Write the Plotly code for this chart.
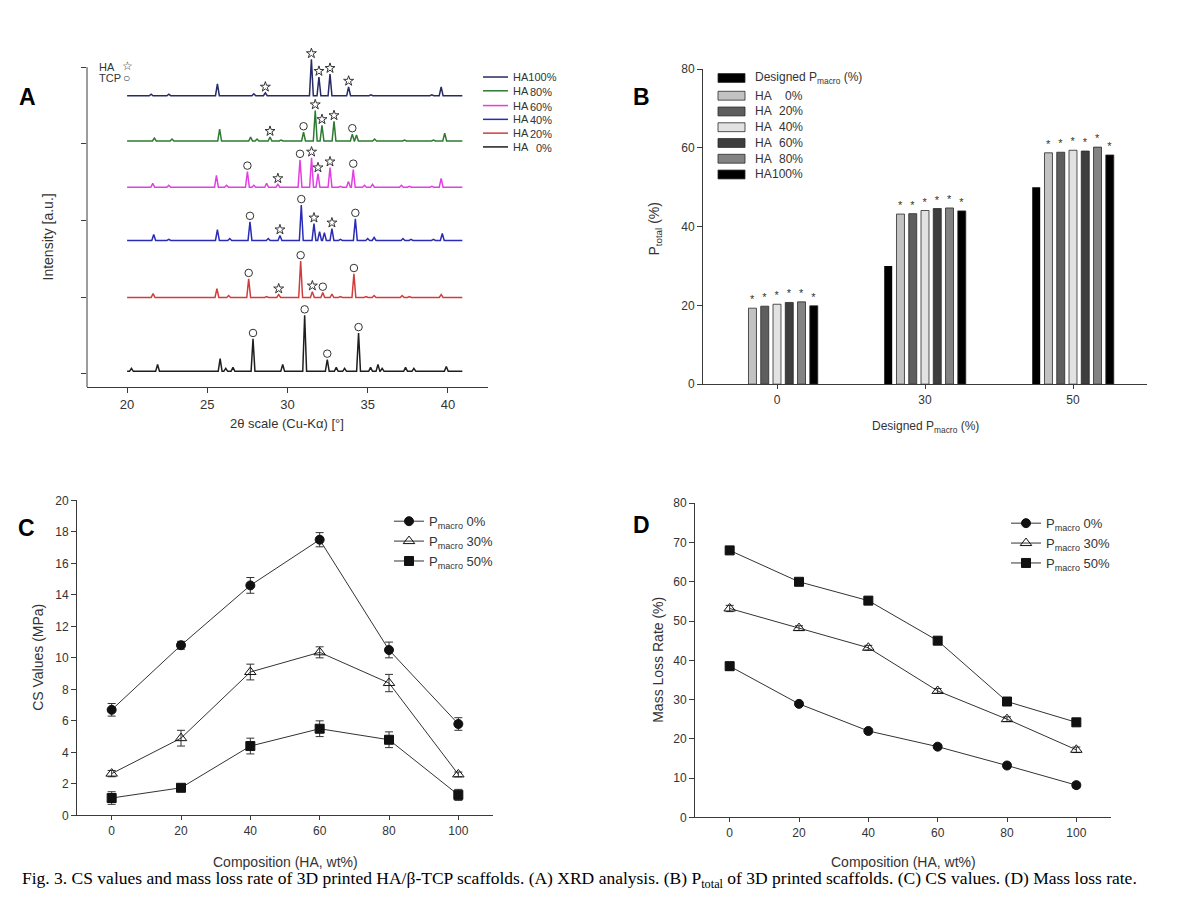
import plotly.graph_objects as go

W, H = 1183, 900


def px(x):
    return x / W


def py(y):
    return 1 - y / H


# ---------------- A: XRD patterns (peak positions in 2theta, heights in a.u.) ----------------
xrd_pct = ["0%", "20%", "40%", "60%", "80%", "100%"]
xrd_colors = ["#1e1e1e", "#d23c3c", "#2b2bb5", "#e23fe2", "#2d7a32", "#262a66"]
xrd_offsets = [2, 77, 135, 189, 236, 282]

ha0_pos = [20.27, 21.9, 25.8, 26.15, 26.6, 27.85, 29.7, 31.07, 32.48, 33.04, 33.56, 34.43, 35.18, 35.64, 35.9, 37.36, 37.88, 39.9]
ha0_int = [3, 7, 13, 3, 4, 33, 7, 57, 12, 4, 3, 39, 4, 7, 3, 4, 3, 5]
ha20_pos = [21.62, 25.6, 26.33, 27.58, 28.7, 29.45, 30.82, 31.55, 32.2, 32.77, 33.3, 34.14, 34.9, 35.4, 37.15, 37.6, 39.58]
ha20_int = [4, 9, 2, 19, 1, 3, 37, 6, 5, 3.5, 1, 24, 1, 2, 2, 1, 3]
ha40_pos = [21.66, 22.6, 25.63, 26.4, 27.66, 28.8, 29.53, 30.86, 31.65, 32.0, 32.3, 32.77, 33.3, 34.23, 35.0, 35.4, 37.2, 37.7, 39.1, 39.65]
ha40_int = [6, 1, 11, 2, 19, 2, 5, 36, 17, 9, 8, 12, 1, 22, 2, 3, 2, 1, 1, 7]
ha60_pos = [21.6, 22.6, 25.57, 26.2, 27.5, 27.9, 28.7, 29.4, 30.78, 31.5, 31.9, 32.65, 33.3, 33.8, 34.1, 34.8, 35.3, 37.1, 37.6, 39.0, 39.58]
ha60_int = [4, 2, 12, 2, 16, 2, 4, 3, 28, 30, 14, 20, 1, 6, 18, 2, 3, 2, 1, 1, 9]
ha80_pos = [21.7, 22.8, 25.77, 27.7, 28.1, 28.91, 29.6, 31.0, 31.73, 32.15, 32.9, 34.04, 34.3, 35.43, 37.3, 39.1, 39.8]
ha80_int = [3, 2, 12, 4, 2, 4, 1, 9, 31, 16, 20, 7, 6, 2, 1, 1, 8]
ha100_pos = [21.5, 22.6, 25.63, 27.9, 28.62, 31.49, 31.96, 32.65, 33.81, 35.2, 39.0, 39.58]
ha100_int = [1.5, 1.5, 12, 2, 3, 37, 19, 22, 9, 1, 1, 9]

# phase markers: HA (star) and TCP (circle)
ha0_star, ha0_circ = [], [27.85, 31.07, 32.48, 34.43]
ha20_star, ha20_circ = [29.45, 31.55], [27.58, 30.82, 32.2, 34.14]
ha40_star, ha40_circ = [29.53, 31.65, 32.77], [27.66, 30.86, 34.23]
ha60_star, ha60_circ = [29.4, 31.5, 31.9, 32.65], [27.5, 30.78, 34.1]
ha80_star, ha80_circ = [28.91, 31.73, 32.15, 32.9], [31.0, 34.04]
ha100_star, ha100_circ = [28.62, 31.49, 31.96, 32.65, 33.81], []

xrd_pos = [ha0_pos, ha20_pos, ha40_pos, ha60_pos, ha80_pos, ha100_pos]
xrd_int = [ha0_int, ha20_int, ha40_int, ha60_int, ha80_int, ha100_int]
xrd_star = [ha0_star, ha20_star, ha40_star, ha60_star, ha80_star, ha100_star]
xrd_circ = [ha0_circ, ha20_circ, ha40_circ, ha60_circ, ha80_circ, ha100_circ]

# ---------------- B: total porosity ----------------
designed = ["0", "30", "50"]
b_names = ["Designed P<sub>macro</sub> (%)", "HA 0%", "HA 20%", "HA 40%", "HA 60%", "HA 80%", "HA 100%"]
b_pct = ["", "0%", "20%", "40%", "60%", "80%", "100%"]
b_colors = ["#000000", "#c2c2c2", "#5e5e5e", "#e2e2e2", "#3e3e3e", "#838383", "#000000"]
p_designed = [0, 30, 50]
p_ha0 = [19.3, 43.2, 58.75]
p_ha20 = [19.8, 43.3, 58.9]
p_ha40 = [20.3, 44.1, 59.4]
p_ha60 = [20.75, 44.6, 59.2]
p_ha80 = [20.9, 44.75, 60.2]
p_ha100 = [19.9, 44.0, 58.2]
b_values = [p_designed, p_ha0, p_ha20, p_ha40, p_ha60, p_ha80, p_ha100]

# ---------------- C / D ----------------
comp = [0, 20, 40, 60, 80, 100]
c_names = ["P<sub>macro</sub> 0%", "P<sub>macro</sub> 30%", "P<sub>macro</sub> 50%"]
cs_p0 = [6.7, 10.8, 14.6, 17.5, 10.5, 5.8]
cs_p0_err = [0.4, 0.25, 0.5, 0.45, 0.5, 0.4]
cs_p30 = [2.65, 4.9, 9.1, 10.35, 8.4, 2.6]
cs_p30_err = [0.2, 0.5, 0.5, 0.35, 0.55, 0.15]
cs_p50 = [1.1, 1.75, 4.4, 5.5, 4.8, 1.3]
cs_p50_err = [0.4, 0.2, 0.5, 0.5, 0.5, 0.35]

ml_p0 = [38.5, 28.9, 22.0, 18.0, 13.2, 8.2]
ml_p0_err = [1.0, 0.6, 0.6, 0.5, 0.6, 0.7]
ml_p30 = [53.2, 48.2, 43.2, 32.2, 25.0, 17.2]
ml_p30_err = [0.8, 0.6, 0.6, 0.6, 0.6, 0.7]
ml_p50 = [68.0, 60.0, 55.2, 45.0, 29.5, 24.2]
ml_p50_err = [0.7, 0.7, 0.6, 0.6, 0.7, 0.7]

FONT = "Arial, Liberation Sans, sans-serif"
AX = "#3a3a3a"
PEAK_W = 0.12

fig = go.Figure()

# --- A traces ---
for i in range(6):
    base = xrd_offsets[i]
    xs, ys = [20.0], [base]
    for p, v in zip(xrd_pos[i], xrd_int[i]):
        xs += [p - PEAK_W, p, p + PEAK_W]
        ys += [base, base + v, base]
    xs.append(40.9)
    ys.append(base)
    fig.add_trace(go.Scatter(x=xs, y=ys, mode="lines", line=dict(color=xrd_colors[i], width=1.5),
                             xaxis="x", yaxis="y", showlegend=False, hoverinfo="skip"))
    lookup = dict(zip(xrd_pos[i], xrd_int[i]))
    for marks, sym in ((xrd_star[i], "star-open"), (xrd_circ[i], "circle-open")):
        if not marks:
            continue
        fig.add_trace(go.Scatter(x=marks, y=[base + lookup[m] + 6 for m in marks], mode="markers",
                                 marker=dict(symbol=sym, size=7.5, color="#333", line=dict(width=1, color="#333")),
                                 xaxis="x", yaxis="y", showlegend=False, cliponaxis=False, hoverinfo="skip"))

# --- B traces ---
for i in range(7):
    fig.add_trace(go.Bar(x=designed, y=b_values[i], name=b_names[i], xaxis="x2", yaxis="y2",
                         marker=dict(color=b_colors[i], line=dict(color="#2a2a2a", width=0 if i == 0 else 0.8)),
                         text=None if i == 0 else ["*"] * 3, textposition="outside",
                         textfont=dict(size=11, color="#333", family=FONT), cliponaxis=False,
                         showlegend=False))

# --- C / D traces ---
symbols = ["circle", "triangle-up-open", "square"]
cs_vals = [(cs_p0, cs_p0_err), (cs_p30, cs_p30_err), (cs_p50, cs_p50_err)]
ml_vals = [(ml_p0, ml_p0_err), (ml_p30, ml_p30_err), (ml_p50, ml_p50_err)]
for i in range(3):
    sym = symbols[i]
    size = 10 if i == 1 else 9
    fig.add_trace(go.Scatter(x=comp, y=cs_vals[i][0], name=c_names[i], mode="lines+markers",
                             xaxis="x3", yaxis="y3", legend="legend",
                             line=dict(color="#333", width=1),
                             marker=dict(symbol=sym, size=size, color="#111", line=dict(color="#111", width=1)),
                             error_y=dict(type="data", array=cs_vals[i][1], color="#333", thickness=1, width=4)))
    # in D the first point of the P0 curve is drawn with a square in the original;
    # points are given right-to-left so the legend still shows the circle
    x_d, y_d, e_d = comp[::-1], ml_vals[i][0][::-1], ml_vals[i][1][::-1]
    sym_d = ["circle"] * 5 + ["square"] if i == 0 else sym
    fig.add_trace(go.Scatter(x=x_d, y=y_d, name=c_names[i], mode="lines+markers",
                             xaxis="x4", yaxis="y4", legend="legend2",
                             line=dict(color="#333", width=1),
                             marker=dict(symbol=sym_d, size=size, color="#111", line=dict(color="#111", width=1)),
                             error_y=dict(type="data", array=e_d, color="#333", thickness=1, width=4)))

axis_style = dict(showline=True, linecolor=AX, linewidth=1, ticks="outside", ticklen=5, tickcolor=AX,
                  showgrid=False, zeroline=False, tickfont=dict(family=FONT, size=12, color="#333"))

fig.update_layout(
    width=W, height=H, margin=dict(l=0, r=0, t=0, b=0),
    paper_bgcolor="white", plot_bgcolor="white",
    font=dict(family=FONT, color="#333"),
    barmode="group", bargap=0.42, bargroupgap=0.35,
    xaxis=dict(axis_style, domain=[px(79), px(480)], range=[17.5, 42.5], tickvals=[20, 25, 30, 35, 40],
               anchor="y", tickfont=dict(family=FONT, size=13, color="#333")),
    yaxis=dict(axis_style, domain=[py(378), py(34)], range=[-14, 330], showline=False,
               tickvals=[0, 77.5, 155, 233, 311], showticklabels=False, anchor="x"),
    xaxis2=dict(axis_style, domain=[px(695), px(1139)], type="category", range=[-0.5, 2.5],
                ticklen=4, anchor="y2"),
    yaxis2=dict(axis_style, domain=[py(375), py(55)], range=[0, 80], tickvals=[0, 20, 40, 60, 80],
                anchor="x2"),
    xaxis3=dict(axis_style, domain=[px(69), px(485)], range=[-10, 110], tickvals=comp, ticklen=4, anchor="y3"),
    yaxis3=dict(axis_style, domain=[py(813), py(493)], range=[0, 20], dtick=2, anchor="x3"),
    xaxis4=dict(axis_style, domain=[px(687), px(1103)], range=[-10, 110], tickvals=comp, ticklen=4, anchor="y4"),
    yaxis4=dict(axis_style, domain=[py(815), py(496)], range=[0, 80], dtick=10, anchor="x4"),
    legend=dict(x=px(381), y=py(499), xanchor="left", yanchor="top", bgcolor="rgba(0,0,0,0)",
                font=dict(family=FONT, size=13, color="#333")),
    legend2=dict(x=px(998), y=py(501), xanchor="left", yanchor="top", bgcolor="rgba(0,0,0,0)",
                 font=dict(family=FONT, size=13, color="#333")),
)

# y axis line of A (stops at the top tick)
fig.add_shape(type="line", xref="x domain", yref="y", x0=0, x1=0, y0=-14, y1=311,
              line=dict(color=AX, width=1))

ann = []


def text(x, y, s, size=12, anchor="center", **kw):
    ann.append(dict(x=px(x), y=py(y), xref="paper", yref="paper", text=s, showarrow=False,
                    xanchor=anchor, yanchor="middle", font=dict(family=kw.pop("family", FONT), size=size,
                                                                color=kw.pop("color", "#333")), **kw))


# panel letters
for lab, (x, y) in zip("ABCD", [(19, 83), (633, 83), (18, 521), (633, 518)]):
    text(x, y, "<b>%s</b>" % lab, size=23, color="#000")

# axis titles
text(279, 415, "2θ scale (Cu-Kα) [°]", size=13)
text(40, 226, "Intensity [a.u.]", size=14, textangle=-90)
text(918, 419, "Designed P<sub>macro</sub> (%)", size=12)
text(647, 217, "P<sub>total</sub> (%)", size=14, textangle=-90)
text(277, 860, "Composition (HA, wt%)", size=14)
text(30, 653, "CS Values (MPa)", size=14, textangle=-90)
text(895, 860, "Composition (HA, wt%)", size=14)
text(650, 655, "Mass Loss Rate (%)", size=14, textangle=-90)

# A: phase key
text(89, 53, "HA", size=11, anchor="left")
text(89, 64, "TCP", size=11, anchor="left")
text(119, 52, "☆", size=12)
text(118, 64, "○", size=12)

# A: legend
a_rows = [63, 77, 92, 106, 120, 134]
for r, i in zip(a_rows, range(5, -1, -1)):
    fig.add_shape(type="line", xref="paper", yref="paper", x0=px(475), x1=px(500), y0=py(r), y1=py(r),
                  line=dict(color=xrd_colors[i], width=1.5))
    if i == 5:
        text(503, r, "HA" + xrd_pct[i], size=11, anchor="left")
    else:
        text(503, r, "HA", size=11, anchor="left")
        text(546, r + 1, xrd_pct[i], size=11, anchor="right")

# B: legend
b_rows = [64, 82, 98, 114, 130, 146, 162]
for r, i in zip(b_rows, range(7)):
    fig.add_shape(type="rect", xref="paper", yref="paper", x0=px(710), x1=px(737), y0=py(r + 4.5),
                  y1=py(r - 4.5), fillcolor=b_colors[i], line=dict(color="#2a2a2a", width=0.8))
    if i == 0:
        text(745, r, b_names[0], size=12, anchor="left")
    else:
        text(745, r, "HA", size=12, anchor="left")
        text(797, r, b_pct[i], size=12, anchor="right")

# caption
text(12, 878, "Fig. 3. CS values and mass loss rate of 3D printed HA/β-TCP scaffolds. (A) XRD analysis. "
              "(B) P<sub>total</sub> of 3D printed scaffolds. (C) CS values. (D) Mass loss rate.",
     size=17.5, anchor="left", family="Liberation Serif, Times New Roman, serif", color="#000")

fig.update_layout(annotations=ann)
fig.write_html("out.html")
